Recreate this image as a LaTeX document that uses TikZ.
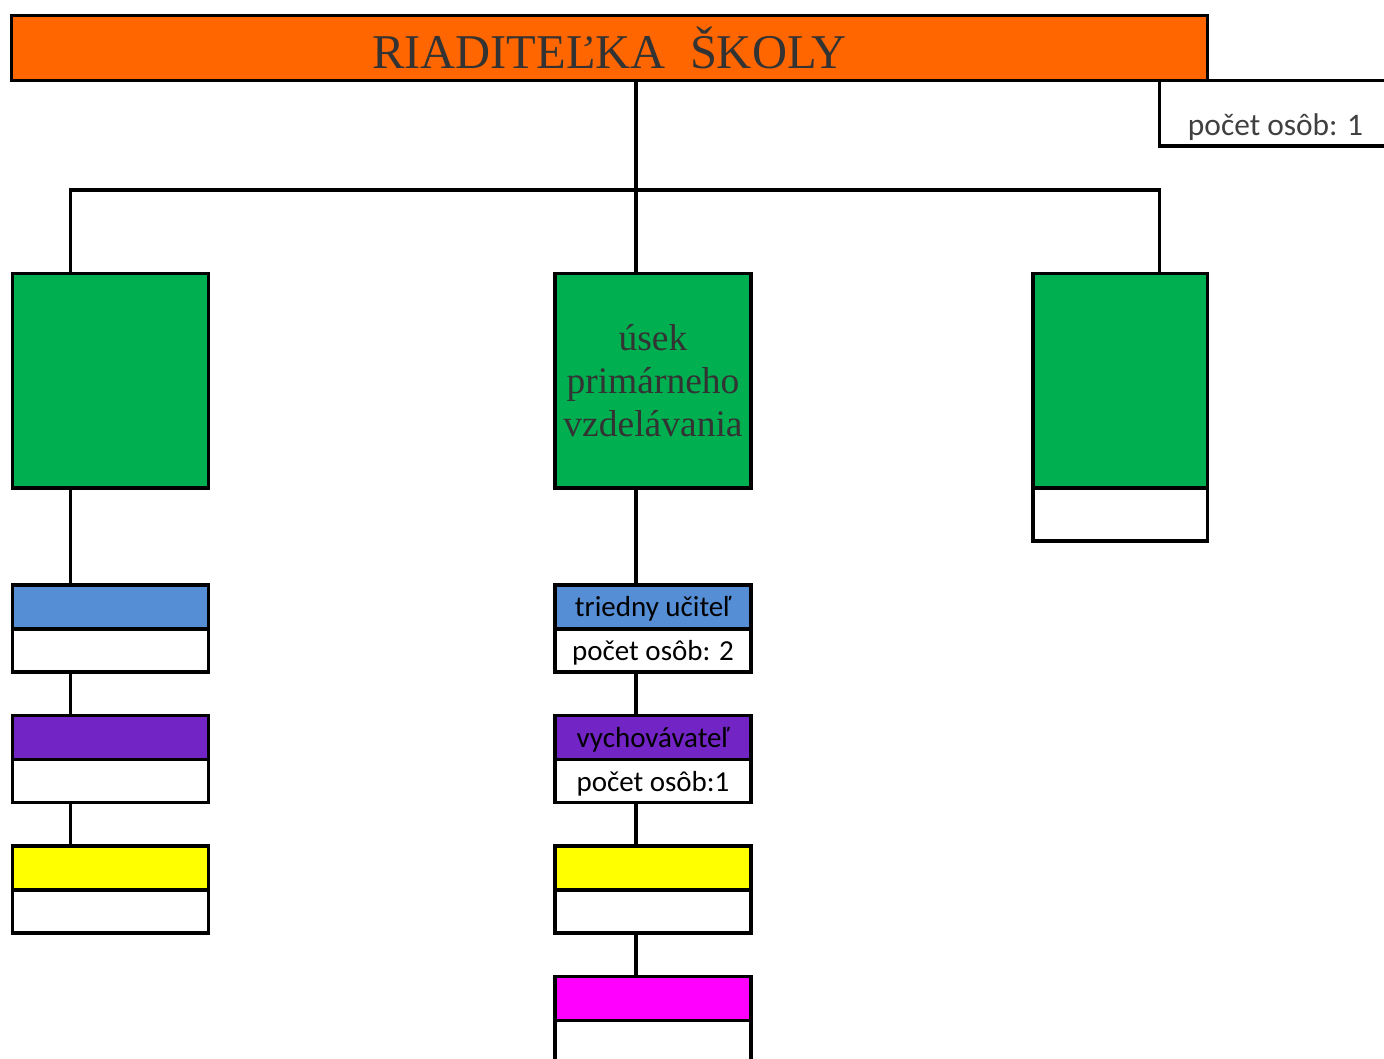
\documentclass[tikz,border=0pt]{standalone}
\usepackage{fontspec}
\setmainfont{Liberation Serif}
\newfontfamily\calibri{Carlito}
\usetikzlibrary{positioning}
\definecolor{titleorange}{HTML}{FF6600}
\definecolor{sectiongreen}{HTML}{00B050}
\definecolor{teacherblue}{HTML}{558ED5}
\definecolor{tutorpurple}{HTML}{7224C4}
\definecolor{roleyellow}{HTML}{FFFF00}
\definecolor{rolemagenta}{HTML}{FF00FF}
\definecolor{darktext}{HTML}{333333}
\definecolor{counttext}{HTML}{404040}

\begin{document}
\begin{tikzpicture}
    [
    x=1pt, y=-1pt,
    every node/.style={inner sep=0pt, outer sep=0pt},
    box/.style={draw, line width=3.3pt, minimum width=196pt},
    section/.style={box, fill=sectiongreen, minimum height=214.5pt, text=darktext, align=center, font=\fontsize{37.5}{43}\selectfont},
    role/.style={box, minimum height=44pt, text height=31.7pt, text depth=12.3pt, font=\calibri\fontsize{29}{34}\selectfont},
    count/.style={box, fill=white, minimum height=43pt, text height=31.7pt, text depth=11.3pt, font=\calibri\fontsize{29}{34}\selectfont},
    link/.style={line width=3.3pt},
    ]
    \useasboundingbox (0,0) rectangle (1384,1059);
    \clip (0,0) rectangle (1384,1059);

    \coordinate (busL) at (70.8,190);
    \coordinate (busM) at (636,190);
    \coordinate (busR) at (1159.7,190);

    \node (total) at (1275.5,136) [box, anchor=base, minimum width=231.6pt, text height=55.5pt, text depth=10pt, text=counttext, font=\calibri\fontsize{31.4}{36}\selectfont] {počet osôb: 1};
    \node (title) at (609.5,48) [box, fill=titleorange, minimum width=1196pt, minimum height=65pt, text=darktext, font=\fontsize{48.5}{57}\selectfont] {RIADITEĽKA\ \ ŠKOLY};

    \node (lsection) at (110.6,380.75) [section] {};
    \node (msection) at (653,380.75) [section] {úsek\\primárneho\\vzdelávania};
    \node (rsection) at (1120.25,380.75) [section, minimum width=174.5pt] {};
    \node (rcount) [count, minimum width=174.5pt, minimum height=53pt, text height=53pt, text depth=0pt, below=0pt of rsection] {};

    \node (lrole1) at (110.6,607) [role, fill=teacherblue] {};
    \node (lcount1) [count, below=0pt of lrole1] {};
    \node (lrole2) at (110.6,737.5) [role, fill=tutorpurple] {};
    \node (lcount2) [count, below=0pt of lrole2] {};
    \node (lrole3) at (110.6,868) [role, fill=roleyellow] {};
    \node (lcount3) [count, below=0pt of lrole3] {};

    \node (mrole1) at (653,607) [role, fill=teacherblue] {triedny učiteľ};
    \node (mcount1) [count, below=0pt of mrole1] {počet osôb: 2};
    \node (mrole2) at (653,737.5) [role, fill=tutorpurple] {vychovávateľ};
    \node (mcount2) [count, below=0pt of mrole2] {počet osôb:1};
    \node (mrole3) at (653,868) [role, fill=roleyellow] {};
    \node (mcount3) [count, below=0pt of mrole3] {};
    \node (mrole4) at (653,998.5) [role, fill=rolemagenta] {};
    \node (mcount4) [count, below=0pt of mrole4] {};

    \draw [link] (title.south -| busM) to (msection.north -| busM);
    \draw [link] (lsection.north -| busL) |- (busR) to (rsection.north -| busR);

    \draw [link] (lsection.south -| busL) to (lrole1.north -| busL);
    \draw [link] (lcount1.south -| busL) to (lrole2.north -| busL);
    \draw [link] (lcount2.south -| busL) to (lrole3.north -| busL);

    \draw [link] (msection.south -| busM) to (mrole1.north -| busM);
    \draw [link] (mcount1.south -| busM) to (mrole2.north -| busM);
    \draw [link] (mcount2.south -| busM) to (mrole3.north -| busM);
    \draw [link] (mcount3.south -| busM) to (mrole4.north -| busM);
  \end{tikzpicture}
\end{document}
